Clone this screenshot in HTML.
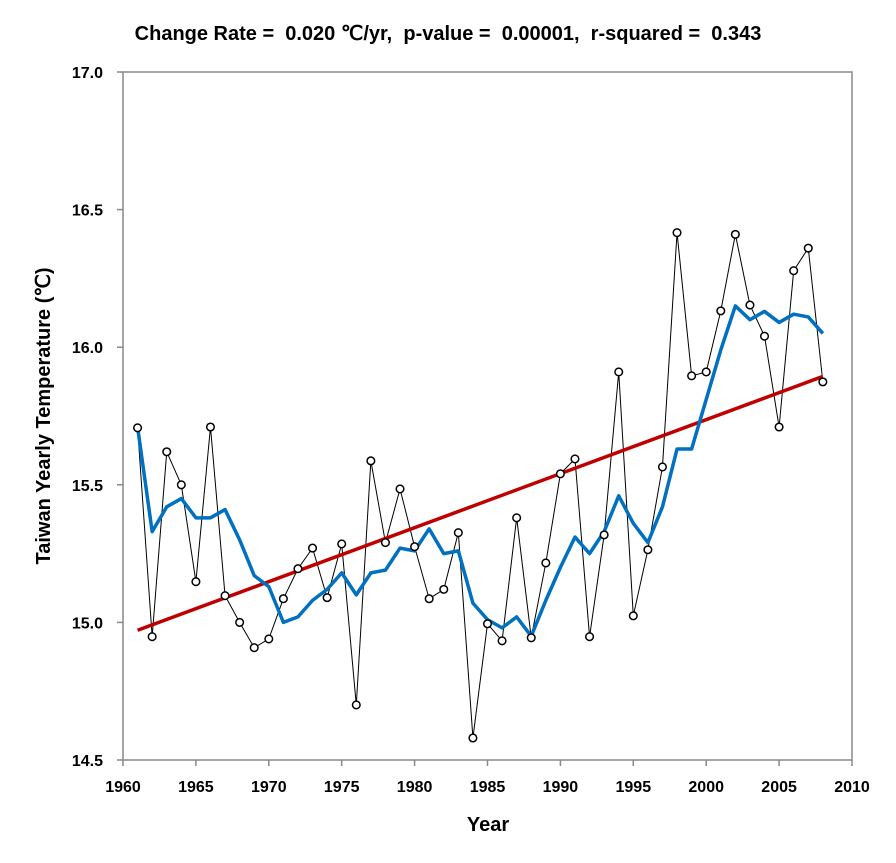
<!DOCTYPE html>
<html><head><meta charset="utf-8"><style>
body{margin:0;background:#fff;}
svg{display:block;font-family:"Liberation Sans",sans-serif;}
</style></head><body>
<svg id="chart" width="896" height="863">
<text x="448" y="40" text-anchor="middle" font-size="20" font-weight="bold" style="white-space:pre" xml:space="preserve">Change Rate =  0.020 ℃/yr,  p-value =  0.00001,  r-squared =  0.343</text>
<rect x="123" y="72" width="729" height="688" fill="none" stroke="#888" stroke-width="1.5"/>
<g id="axes"></g>
<g id="marks"></g>
<text x="488" y="831" text-anchor="middle" font-size="20" font-weight="bold">Year</text>
<text transform="translate(50,416) rotate(-90)" text-anchor="middle" font-size="20" font-weight="bold">Taiwan Yearly Temperature (℃)</text>
</svg>
<script>
const years=[1961,1962,1963,1964,1965,1966,1967,1968,1969,1970,1971,1972,1973,1974,1975,1976,1977,1978,1979,1980,1981,1982,1983,1984,1985,1986,1987,1988,1989,1990,1991,1992,1993,1994,1995,1996,1997,1998,1999,2000,2001,2002,2003,2004,2005,2006,2007,2008];
const temps=[15.707,14.948,15.62,15.50,15.148,15.71,15.097,15.0,14.908,14.94,15.086,15.195,15.27,15.09,15.285,14.70,15.587,15.29,15.485,15.275,15.086,15.12,15.326,14.58,14.995,14.933,15.38,14.944,15.216,15.54,15.594,14.948,15.318,15.91,15.024,15.264,15.565,16.416,15.896,15.91,16.132,16.41,16.153,16.04,15.71,16.278,16.36,15.874];
const smooth=[15.71,15.33,15.42,15.45,15.38,15.38,15.41,15.30,15.17,15.13,15.00,15.02,15.08,15.12,15.18,15.10,15.18,15.19,15.27,15.26,15.34,15.25,15.26,15.07,15.01,14.98,15.02,14.95,15.08,15.20,15.31,15.25,15.33,15.46,15.36,15.29,15.42,15.63,15.63,15.81,15.99,16.15,16.10,16.13,16.09,16.12,16.11,16.05];
const xTicks=[1960,1965,1970,1975,1980,1985,1990,1995,2000,2005,2010];
const yTicks=[14.5,15.0,15.5,16.0,16.5,17.0];
const NS='http://www.w3.org/2000/svg';
const X=v=>123+(v-1960)*729/50;
const Y=v=>760-(v-14.5)*688/2.5;
function mk(t,a,p){const e=document.createElementNS(NS,t);for(const k in a)e.setAttribute(k,a[k]);p.appendChild(e);return e;}
const axes=document.getElementById('axes'),marks=document.getElementById('marks');
xTicks.forEach(t=>{
 const l=mk('line',{x1:X(t),x2:X(t),y1:760,y2:766,stroke:'#888','stroke-width':1.5},axes);
 
 
 const tx=mk('text',{x:X(t),y:792,'text-anchor':'middle','font-size':16,'font-weight':'bold'},axes);tx.textContent=t;
 
 
});
yTicks.forEach(t=>{
 const l=mk('line',{x1:117,x2:123,y1:Y(t),y2:Y(t),stroke:'#888','stroke-width':1.5},axes);
 
 
 const tx=mk('text',{x:103,y:Y(t)+6,'text-anchor':'end','font-size':16,'font-weight':'bold'},axes);tx.textContent=t.toFixed(1);
 
 
});
const n=years.length,mx=years.reduce((a,b)=>a+b)/n,my=temps.reduce((a,b)=>a+b)/n;
let sxy=0,sxx=0;for(let i=0;i<n;i++){sxy+=(years[i]-mx)*(temps[i]-my);sxx+=(years[i]-mx)**2;}
const slope=sxy/sxx,icp=my-slope*mx;
const obs=mk('polyline',{points:years.map((y,i)=>X(y)+','+Y(temps[i])).join(' '),fill:'none',stroke:'#000','stroke-width':1},marks);


const tr=mk('line',{x1:X(years[0]),y1:Y(icp+slope*years[0]),x2:X(years[n-1]),y2:Y(icp+slope*years[n-1]),stroke:'#c00000','stroke-width':3.5},marks);


const sm=mk('polyline',{points:years.map((y,i)=>X(y)+','+Y(smooth[i])).join(' '),fill:'none',stroke:'#0070c0','stroke-width':3.5,'stroke-linejoin':'round'},marks);


years.forEach((y,i)=>{
 const c=mk('circle',{cx:X(y),cy:Y(temps[i]),r:3.8,fill:'#fff',stroke:'#000','stroke-width':1.5},marks);
 
 
});
</script>
</body></html>
